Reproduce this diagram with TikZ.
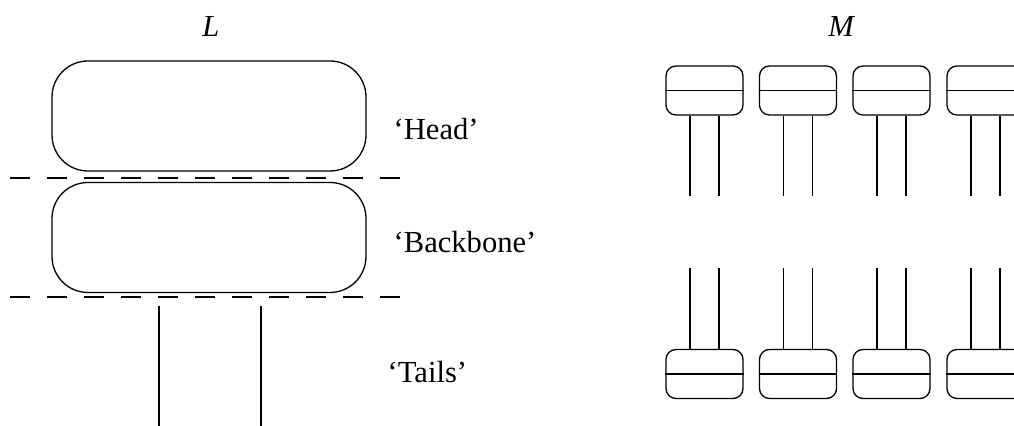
\documentclass[tikz,border=0pt]{standalone}
\usepackage{fontspec}
\setmainfont{Liberation Serif}
\begin{document}
\begin{tikzpicture}[x=0.5pt,y=-0.5pt,
  line width=0.65pt,
  bigbox/.style={draw, rounded corners=18pt, minimum width=157pt, minimum height=55pt, inner sep=0pt},
  smallbox/.style={draw, rounded corners=5pt, minimum width=38.5pt, minimum height=24.5pt, inner sep=0pt},
  sep/.style={dash pattern=on 10pt off 8.5pt},
  lbl/.style={anchor=base west, inner sep=0pt, font=\fontsize{15.3}{18}\selectfont},
  ttl/.style={anchor=base, inner sep=0pt, font=\fontsize{15.3}{18}\selectfont\itshape}]
\useasboundingbox (0,0) rectangle (1014,426);
\clip (0,0) rectangle (1014,426);
% titles
\node[ttl] (L) at (211,37) {L};
\node[ttl] (M) at (841,37) {M};
% left molecule
\node[bigbox] (head) at (209,116) {};
\node[bigbox] (back) at (209,237.5) {};
\coordinate (d1a) at (10,178); \coordinate (d1b) at (403,178);
\coordinate (d2a) at (10,297); \coordinate (d2b) at (403,297);
\draw[sep] (d1a) -- (d1b);
\draw[sep] (d2a) -- (d2b);
\coordinate (t1a) at (159,306); \coordinate (t1b) at (159,426);
\coordinate (t2a) at (261,306); \coordinate (t2b) at (261,426);
\draw (t1a) -- (t1b);
\draw (t2a) -- (t2b);
\node[lbl] (lh) at (393,140) {‘Head’};
\node[lbl] (lb) at (393,253) {‘Backbone’};
\node[lbl] (lt) at (387,383) {‘Tails’};
% right: monolayers
\foreach \i/\cx in {1/704.5,2/798,3/891.5,4/985.5}{
  \node[smallbox] (top\i) at (\cx,90.5) {};
  \draw (top\i.west) -- (top\i.east);
  \coordinate (tpa\i) at (\cx-14.5,196);
  \coordinate (tpb\i) at (\cx+14.5,196);
  \draw (top\i.south -| tpa\i) -- (tpa\i);
  \draw (top\i.south -| tpb\i) -- (tpb\i);
  \node[smallbox] (bot\i) at (\cx,374) {};
  \draw (bot\i.west) -- (bot\i.east);
  \coordinate (bta\i) at (\cx-14.5,268);
  \coordinate (btb\i) at (\cx+14.5,268);
  \draw (bot\i.north -| bta\i) -- (bta\i);
  \draw (bot\i.north -| btb\i) -- (btb\i);
}
\end{tikzpicture}
\end{document}
